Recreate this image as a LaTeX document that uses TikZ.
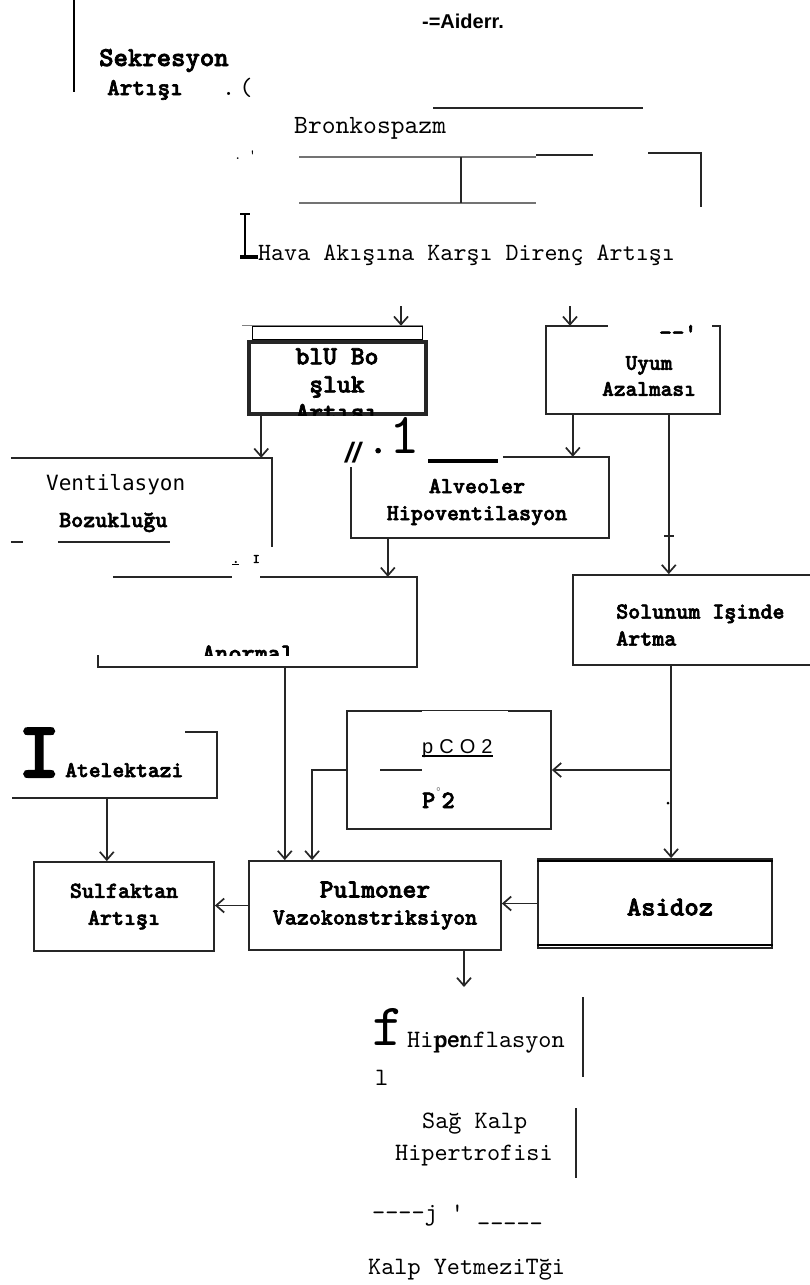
\documentclass[tikz,border=0pt]{standalone}
\usepackage{fontspec}
\setmonofont{lmmono10-regular}[Extension=.otf, BoldFont=lmmonolt10-bold, BoldFeatures={FakeBold=2.6}, Ligatures=TeXOff]
\newfontfamily\dejamono{DejaVu Sans Mono}
\newfontfamily\libsans{Liberation Sans}
\usetikzlibrary{arrows.meta,positioning,calc}

\begin{document}
\begin{tikzpicture}[x=1pt, y=-1pt,
    box/.style={draw=black!85, line width=1.8pt, inner sep=0pt},
    hollow/.style={inner sep=0pt},
    bold/.style={inner sep=0pt, align=center, font=\ttfamily\bfseries\fontsize{22.9}{27}\selectfont},
    plain/.style={inner sep=0pt, anchor=base west, font=\ttfamily\fontsize{25}{32}\selectfont},
    wipe/.style={fill=white, inner sep=0pt},
    edge/.style={line width=1.8pt, black!85},
    arr/.style={-{Straight Barb[length=8pt,width=14pt]}, line width=1.7pt, black!85}
  ]
  \useasboundingbox (0,0) rectangle (809,1285);

  \draw[line width=2.5pt] (74,0) -- (74,92);
  \node[inner sep=0pt, anchor=base, font=\libsans\bfseries\fontsize{20}{22}\selectfont] (aider) at (463,28) {-=Aiderr.};
  \node[plain, font=\ttfamily\bfseries\fontsize{27.4}{30}\selectfont] (sekr) at (99,66) {Sekresyon};
  \node[plain, font=\ttfamily\bfseries\fontsize{24}{28}\selectfont] (sekr2) at (107,95) {Artışı};
  \node[plain] (paren) at (222,95) {.\,(};
  \draw[edge] (433,108) -- (643,108);
  \node[plain, font=\ttfamily\fontsize{26.3}{30}\selectfont] (bronko) at (294,133) {Bronkospazm};
  \node[plain, font=\ttfamily\fontsize{14}{14}\selectfont] (dots) at (234,159) {. '};
  \draw[black!55, line width=1.2pt] (299,157) -- (536,157) (299,203) -- (536,203);
  \draw[edge] (461,157) -- (461,203);
  \draw[edge] (536,155) -- (593,155);
  \draw[edge] (648,153) -- (701,153) -- (701,207);
  \draw[line width=2pt] (240,214) -- (250,214) (245,214) -- (245,257);
  \draw[line width=4pt] (240,257) -- (258,257);
  \node[plain, font=\ttfamily\fontsize{24.8}{30}\selectfont] (hava) at (258,260) {Hava Akışına Karşı Direnç Artışı};

  \draw[black!50, line width=1pt] (242,325) -- (423,325);
  \node[box, line width=3.5pt, minimum width=177pt, minimum height=72pt] (blu) at (337.5,378) {};
  \node[draw, line width=1.5pt, inner sep=0pt, minimum width=170pt, minimum height=13pt, anchor=south] (blustripe) at (blu.north) {};
  \begin{scope}
    \clip (blu.north west) rectangle (blu.south east);
    \node[bold, font=\ttfamily\bfseries\fontsize{26.3}{28}\selectfont] (blutxt) at (337,387) {blU Bo\\şluk\\Artışı};
  \end{scope}

  \node[hollow, minimum width=261pt, minimum height=84pt] (vent) at (141.5,500) {};
  \draw[edge] (vent.north west) -- (vent.north east) -- ([yshift=-5pt]vent.south east);
  \draw[edge] (vent.south west) -- ++(12,0);
  \draw[edge] ([xshift=47pt]vent.south west) -- ++(112,0);
  \node[plain, font=\dejamono\fontsize{21}{26}\selectfont] (venttxt) at (46,490) {Ventilasyon};
  \node[plain, font=\ttfamily\bfseries\fontsize{22.9}{26}\selectfont] (venttxt2) at (59,527) {Bozukluğu};

  \node[hollow, minimum width=174pt, minimum height=88pt] (uyum) at (633,370) {};
  \draw[edge] ([xshift=62pt]uyum.north west) -- (uyum.north west) -- (uyum.south west) -- (uyum.south east) -- (uyum.north east) -- ++(-8,0);
  \node[bold, font=\ttfamily\bfseries\fontsize{22.3}{26}\selectfont] (uyumtxt) at (649,376) {Uyum\\Azalması};
  \node[plain, font=\ttfamily\bfseries\fontsize{24}{26}\selectfont] (uyumtick) at (659,340) {--'};

  \node[hollow, minimum width=258pt, minimum height=81pt] (alv) at (480,497.5) {};
  \draw[edge] ([xshift=152pt]alv.north west) -- (alv.north east) -- (alv.south east) -- (alv.south west) -- ([yshift=-10pt]alv.north west);
  \node[bold] (alvtxt) at (477,502) {Alveoler\\Hipoventilasyon};
  \node[plain, font=\libsans\bfseries\itshape\fontsize{28}{28}\selectfont] (scrA) at (345,462) {//};
  \node[plain, font=\ttfamily\bfseries\fontsize{34}{34}\selectfont] (scrB) at (369,453) {.};
  \node[plain, font=\ttfamily\fontsize{58}{58}\selectfont] (scrC) at (389,453) {1};
  \draw[line width=4.5pt] (428,461) -- (498,461);

  \node[hollow, minimum width=319pt, minimum height=90pt] (anor) at (257.5,622) {};
  \draw[edge] ([xshift=15pt]anor.north west) -- (anor.north east) -- (anor.south east) -- (anor.south west) -- ([yshift=12pt]anor.south west);
  \begin{scope}
    \clip (150,600) rectangle (350,655);
    \node[plain, font=\ttfamily\bfseries\fontsize{25}{26}\selectfont] (anortxt) at (202,661) {Anormal};
  \end{scope}
  \node[wipe, minimum width=26pt, minimum height=40pt, font=\ttfamily\bfseries\fontsize{13}{14}\selectfont] (dotI) at (246,560) {\underline{.}\ \ I};

  \node[box, minimum width=257pt, minimum height=90pt] (sol) at (701.5,620) {};
  \node[bold, align=left, anchor=west] (soltxt) at (616,625) {Solunum Işinde\\Artma};

  \node[box, minimum width=204pt, minimum height=118pt] (pco) at (449,770) {};
  \node[wipe, minimum width=86pt, minimum height=107pt] (pcowipe) at (465,764.5) {};
  \node[plain, font=\libsans\fontsize{20}{24}\selectfont] (pcotxt) at (422,753) {p\hspace{6pt}C\hspace{6pt}O\hspace{6pt}2};
  \draw[line width=1.4pt] ([yshift=-3pt]pcotxt.base west) -- ([yshift=-3pt]pcotxt.base east);
  \node[plain, font=\ttfamily\bfseries\fontsize{25}{26}\selectfont] (po2) at (422,808) {P\kern1pt\raisebox{1.5ex}{\fontsize{8}{8}\selectfont$\circ$}\kern1pt 2};
  \draw[edge] ([xshift=34pt]pco.west) -- (pcowipe.west |- pco.west);

  \node[hollow, minimum width=205pt, minimum height=66pt] (atel) at (114.5,765) {};
  \draw[edge] ([xshift=-32pt]atel.north east) -- (atel.north east) -- (atel.south east) -- (atel.south west);
  \node[plain, font=\ttfamily\bfseries\fontsize{80}{80}\selectfont] (atelI) at (18,777) {I};
  \node[plain, font=\ttfamily\bfseries\fontsize{22.5}{24}\selectfont] (ateltxt) at (65,777) {Atelektazi};

  \node[box, bold, minimum width=180pt, minimum height=89pt] (sulf) at (124,906.5) {Sulfaktan\\Artışı};
  \node[box, bold, minimum width=252pt, minimum height=89pt] (pulm) at (375,905.5) {{\fontsize{26.3}{27}\selectfont Pulmoner}\\Vazokonstriksiyon};
  \node[box, minimum width=234pt, minimum height=89pt] (asid) at (655,903.5) {};
  \draw[line width=2.5pt] ([yshift=-3pt]asid.north west) -- ([yshift=-3pt]asid.north east);
  \draw[line width=2.5pt] ([yshift=4pt]asid.south west) -- ([yshift=4pt]asid.south east);
  \node[bold, font=\ttfamily\bfseries\fontsize{27.4}{28}\selectfont] (asidtxt) at (670,907) {Asidoz};

  \coordinate (bluin) at (401,306);
  \coordinate (uyumin) at (570,306);
  \draw[arr] (bluin) -- (bluin |- blustripe.north);
  \draw[arr] (uyumin) -- (uyumin |- uyum.north);
  \coordinate (bv) at ([xshift=14pt]blu.south west);
  \draw[arr] (bv) -- (bv |- vent.north);
  \coordinate (ua) at ([xshift=27pt]uyum.south west);
  \draw[arr] (ua) -- (ua |- alv.north);
  \coordinate (us) at ([xshift=123pt]uyum.south west);
  \draw[arr] (us) -- (us |- sol.north);
  \draw[edge] (664,536) -- (674,536);
  \coordinate (aa) at ([xshift=37pt]alv.south west);
  \draw[arr] (aa) -- (aa |- anor.north);
  \coordinate (ap) at ([xshift=187pt]anor.south west);
  \draw[arr] (ap) -- (ap |- pulm.north);
  \coordinate (sa) at ([xshift=99pt]sol.south west);
  \draw[arr] (sa) -- (sa |- asid.north);
  \draw[arr] (sa |- pco.east) -- (pco.east);
  \fill (668,803) circle (1.5);
  \draw[arr] (pco.west) -| ([xshift=64pt]pulm.north west);
  \coordinate (as) at ([xshift=95pt]atel.south west);
  \draw[arr] (as) -- (as |- sulf.north);
  \draw[arr] (pulm.west) -- (pulm.west -| sulf.east);
  \draw[arr] (asid.west) -- (asid.west -| pulm.east);
  \coordinate (hipin) at (464,987);
  \draw[arr] (hipin |- pulm.south) -- (hipin);

  \node[plain, font=\ttfamily\fontsize{60}{60}\selectfont] (hipf) at (372,1045) {f};
  \node[plain] (hiptxt) at (407,1047) {Hi\rlap{\kern2pt\libsans\fontsize{22}{26}\selectfont per}penflasyon};
  \draw[edge] (583,997) -- (583,1077);
  \node[plain] (hipl) at (375,1085) {l};
  \node[plain] (sag) at (422,1128) {Sağ Kalp};
  \node[plain] (hiper) at (395,1160) {Hipertrofisi};
  \draw[edge] (576,1108) -- (576,1178);
  \node[plain] (kyz) at (372,1220) {----j '\ \_\_\_\_\_};
  \node[plain] (kyet) at (368,1274) {Kalp YetmeziTği};
\end{tikzpicture}
\end{document}
